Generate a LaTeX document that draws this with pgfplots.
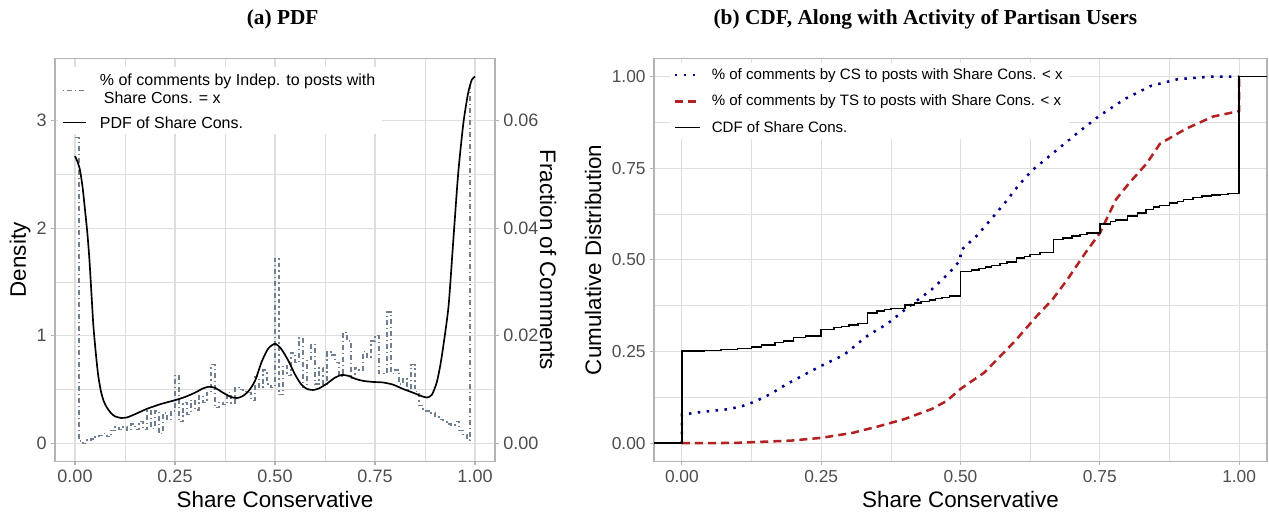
\documentclass[border=0pt]{standalone}
\usepackage{pgfplots}
\pgfplotsset{compat=1.18}
\usepackage{fontspec}
\setmainfont{Liberation Sans}
\newfontfamily\titlefont{Liberation Serif}
\definecolor{gridc}{HTML}{DEDEDE}
\definecolor{borderc}{HTML}{B3B3B3}
\definecolor{tickc}{HTML}{4D4D4D}
\definecolor{slate}{HTML}{708090}
\definecolor{csblue}{HTML}{00008B}
\definecolor{tsred}{HTML}{B22222}

\pgfplotsset{
  two dec/.style={/pgf/number format/fixed, /pgf/number format/fixed zerofill, /pgf/number format/precision=2},
  gg/.style={
    scale only axis,
    /pgf/number format/assume math mode=true,
    axis line style={borderc, line width=0.9pt},
    tick align=outside,
    major tick length=2.8pt,
    minor tick length=0pt,
    every tick/.style={borderc, line width=0.8pt},
    xmajorgrids, ymajorgrids, xminorgrids, yminorgrids,
    major grid style={gridc, line width=0.8pt},
    minor grid style={gridc, line width=0.4pt},
    xtick pos=left, ytick pos=left,
    minor x tick num=1, minor y tick num=1,
    tick label style={font=\fontsize{13.5}{16}\selectfont, text=tickc},
    xticklabel style={two dec},
    label style={font=\fontsize{16.8}{19}\selectfont},
    xlabel style={at={(axis description cs:0.5,-0.093)}, anchor=center},
    legend cell align=left,
  }
}

\pgfplotstableread{
x y
0.00 2.84
0.01 0.02
0.02 0.00
0.03 0.03
0.04 0.04
0.05 0.06
0.06 0.07
0.07 0.09
0.08 0.06
0.09 0.12
0.10 0.15
0.11 0.13
0.12 0.15
0.13 0.12
0.14 0.18
0.15 0.13
0.16 0.20
0.17 0.13
0.18 0.30
0.19 0.14
0.20 0.30
0.21 0.09
0.22 0.28
0.23 0.22
0.24 0.30
0.25 0.63
0.26 0.20
0.27 0.38
0.28 0.27
0.29 0.40
0.30 0.31
0.31 0.44
0.32 0.38
0.33 0.48
0.34 0.73
0.35 0.33
0.36 0.38
0.37 0.36
0.38 0.47
0.39 0.37
0.40 0.52
0.41 0.50
0.42 0.48
0.43 0.47
0.44 0.40
0.45 0.62
0.46 0.52
0.47 0.68
0.48 0.55
0.49 0.52
0.50 1.72
0.51 0.45
0.52 0.72
0.53 0.63
0.54 0.84
0.55 0.75
0.56 0.98
0.57 0.52
0.58 0.78
0.59 0.92
0.60 0.55
0.61 0.70
0.62 0.55
0.63 0.85
0.64 0.82
0.65 0.75
0.66 0.62
0.67 1.03
0.68 0.95
0.69 0.60
0.70 0.70
0.71 0.68
0.72 0.85
0.73 0.80
0.74 0.95
0.75 1.00
0.76 0.65
0.77 0.65
0.78 1.22
0.79 0.65
0.80 0.68
0.81 0.55
0.82 0.60
0.83 0.50
0.84 0.73
0.85 0.48
0.86 0.35
0.87 0.30
0.88 0.30
0.89 0.28
0.90 0.25
0.91 0.22
0.92 0.20
0.93 0.18
0.94 0.17
0.95 0.20
0.96 0.12
0.97 0.08
0.98 0.03
0.9875 3.33
0.995 3.33
}\indep

\pgfplotstableread{
x y
0.000 2.67
0.006 2.62
0.0125 2.54
0.019 2.38
0.025 2.17
0.031 1.95
0.036 1.71
0.041 1.40
0.046 1.09
0.052 0.84
0.058 0.63
0.065 0.48
0.072 0.39
0.080 0.33
0.090 0.28
0.100 0.25
0.115 0.235
0.130 0.24
0.150 0.27
0.180 0.32
0.215 0.365
0.250 0.40
0.275 0.43
0.300 0.47
0.320 0.51
0.335 0.525
0.350 0.515
0.370 0.47
0.390 0.43
0.405 0.42
0.420 0.44
0.435 0.49
0.450 0.58
0.467 0.76
0.483 0.88
0.500 0.925
0.515 0.88
0.533 0.77
0.550 0.64
0.565 0.55
0.580 0.505
0.595 0.495
0.610 0.51
0.630 0.555
0.650 0.61
0.667 0.635
0.685 0.625
0.700 0.60
0.720 0.58
0.745 0.57
0.770 0.565
0.795 0.545
0.820 0.505
0.845 0.47
0.865 0.44
0.880 0.425
0.892 0.45
0.904 0.56
0.913 0.72
0.921 0.91
0.934 1.28
0.946 1.90
0.958 2.51
0.971 2.98
0.983 3.26
0.992 3.38
1.000 3.41
}\pdf

\pgfplotstableread{
x y
-0.05 0
0 0.252
0.04 0.253
0.07 0.255
0.10 0.259
0.125 0.263
0.143 0.268
0.167 0.275
0.182 0.279
0.2 0.288
0.222 0.293
0.25 0.31
0.273 0.316
0.286 0.319
0.3 0.322
0.316 0.326
0.333 0.355
0.35 0.36
0.364 0.364
0.375 0.368
0.4 0.377
0.417 0.382
0.429 0.386
0.444 0.39
0.455 0.394
0.467 0.397
0.48 0.401
0.5 0.468
0.52 0.473
0.533 0.477
0.545 0.481
0.556 0.485
0.571 0.49
0.583 0.494
0.6 0.505
0.615 0.51
0.625 0.515
0.643 0.52
0.667 0.555
0.684 0.56
0.7 0.565
0.714 0.569
0.727 0.574
0.75 0.598
0.769 0.605
0.778 0.609
0.8 0.62
0.818 0.628
0.833 0.638
0.846 0.644
0.857 0.648
0.875 0.655
0.889 0.66
0.9 0.665
0.917 0.67
0.933 0.674
0.95 0.677
0.967 0.679
0.98 0.681
1.0 1.0
1.05 1.0
}\cdf

\pgfplotstableread{
x y
0 0
0 0.078
0.02 0.082
0.04 0.086
0.06 0.089
0.085 0.093
0.11 0.102
0.132 0.114
0.16 0.135
0.188 0.161
0.22 0.187
0.25 0.211
0.29 0.24
0.333 0.293
0.369 0.326
0.405 0.37
0.448 0.419
0.48 0.465
0.5 0.50
0.5 0.525
0.53 0.567
0.56 0.62
0.582 0.66
0.605 0.705
0.629 0.745
0.669 0.795
0.708 0.844
0.75 0.894
0.795 0.939
0.842 0.975
0.89 0.993
0.95 1.0
1.0 1.0
}\cs

\pgfplotstableread{
x y
0 0
0.05 0
0.1 0.001
0.132 0.003
0.196 0.007
0.25 0.0145
0.306 0.028
0.353 0.046
0.4 0.066
0.448 0.093
0.475 0.115
0.5 0.148
0.543 0.193
0.598 0.279
0.637 0.347
0.665 0.392
0.692 0.447
0.724 0.519
0.75 0.573
0.779 0.665
0.803 0.71
0.834 0.763
0.858 0.817
0.905 0.858
0.953 0.891
1.0 0.906
1.0 1.0
}\ts

\begin{document}
\begin{tikzpicture}
\useasboundingbox (0,0) rectangle (951.75pt,385.5pt);

% titles
\node[anchor=base] at (212pt,366.75pt) {\titlefont\bfseries\fontsize{16}{19}\selectfont (a) PDF};
\node[anchor=base] at (694pt,366.75pt) {\titlefont\bfseries\fontsize{16}{19}\selectfont (b) CDF, Along with Activity of Partisan Users};

% ---------- panel (a) ----------
\begin{axis}[gg,
  at={(41.25pt,39.375pt)}, anchor=south west,
  width=330pt, height=302.4pt,
  xmin=-0.05, xmax=1.05, ymin=-0.17, ymax=3.58,
  xtick={0,0.25,0.5,0.75,1}, ytick={0,1,2,3},
  yticklabel style={/pgf/number format/fixed, /pgf/number format/precision=0},
  xlabel={Share Conservative}, ylabel={Density},
  ylabel style={at={(axis description cs:-0.0795,0.5)}, anchor=center},
  legend image code/.code={\draw[#1] (0pt,0pt) -- (17.25pt,0pt);},
  legend style={at={(axis description cs:0.006,0.978)}, anchor=north west,
    draw=none, fill=white, inner xsep=3pt, inner ysep=2pt,
    font=\fontsize{12}{13.5}\selectfont,
    nodes={text depth=},
    row sep=2pt,
    /tikz/every odd column/.append style={column sep=8pt}},
]
\addlegendimage{color=slate, line width=1pt, dash pattern=on 1pt off 2.2pt on 3.6pt off 2.2pt}
\addlegendentry{\begin{tabular}[c]{@{}l@{}}\% of comments by Indep. to posts with\\\hspace{0.25em}Share Cons. = x\end{tabular}}
\addplot[forget plot, const plot, color=slate, line width=0.95pt,
  dash pattern=on 3.6pt off 2.2pt on 1pt off 2.2pt] table {\indep};
\addlegendimage{black, line width=1.25pt}
\addlegendentry{PDF of Share Cons.}
\addplot[forget plot, black, line width=1.25pt, smooth, tension=0.4] table {\pdf};
\end{axis}

% secondary axis of panel (a)
\begin{axis}[scale only axis,
  /pgf/number format/assume math mode=true,
  at={(41.25pt,39.375pt)}, anchor=south west,
  width=330pt, height=302.4pt,
  xmin=-0.05, xmax=1.05, ymin=-0.0034, ymax=0.0716,
  axis x line=none, axis y line*=right,
  axis line style={draw=none},
  ytick={0,0.02,0.04,0.06}, scaled y ticks=false,
  tick align=outside, major tick length=2.8pt,
  every tick/.style={borderc, line width=0.8pt},
  tick label style={font=\fontsize{13.5}{16}\selectfont, text=tickc},
  yticklabel style={two dec},
  ylabel={Fraction of Comments},
  ylabel style={at={(axis description cs:1.1205,0.5)}, anchor=center, rotate=180,
    font=\fontsize{16.8}{19}\selectfont},
]
\addplot[draw=none] coordinates {(0,0)};
\end{axis}

% ---------- panel (b) ----------
\begin{axis}[gg,
  at={(490.5pt,39.375pt)}, anchor=south west,
  width=459.75pt, height=302.4pt,
  xmin=-0.05, xmax=1.05, ymin=-0.05, ymax=1.05,
  xtick={0,0.25,0.5,0.75,1}, ytick={0,0.25,0.5,0.75,1},
  tick label style={font=\fontsize{13}{16}\selectfont, text=tickc},
  yticklabel style={two dec},
  xlabel={Share Conservative}, ylabel={Cumulative Distribution},
  ylabel style={at={(axis description cs:-0.0995,0.5)}, anchor=center},
  legend image code/.code={\draw[#1] (0pt,0pt) -- (18.75pt,0pt);},
  legend style={at={(axis description cs:0.025,0.988)}, anchor=north west,
    draw=none, fill=white, inner xsep=3pt, inner ysep=2pt,
    font=\fontsize{11.3}{13}\selectfont,
    row sep=6pt,
    /tikz/every odd column/.append style={column sep=6pt}},
]
\addplot[csblue, line width=1.9pt, dash pattern=on 1.9pt off 4.8pt] table {\cs};
\addlegendentry{\% of comments by CS to posts with Share Cons. < x}
\addplot[tsred, line width=1.9pt, dash pattern=on 6pt off 3.8pt] table {\ts};
\addlegendentry{\% of comments by TS to posts with Share Cons. < x}
\addplot[const plot, black, line width=1.1pt] table {\cdf};
\addlegendentry{CDF of Share Cons.}
\end{axis}
\end{tikzpicture}
\end{document}
